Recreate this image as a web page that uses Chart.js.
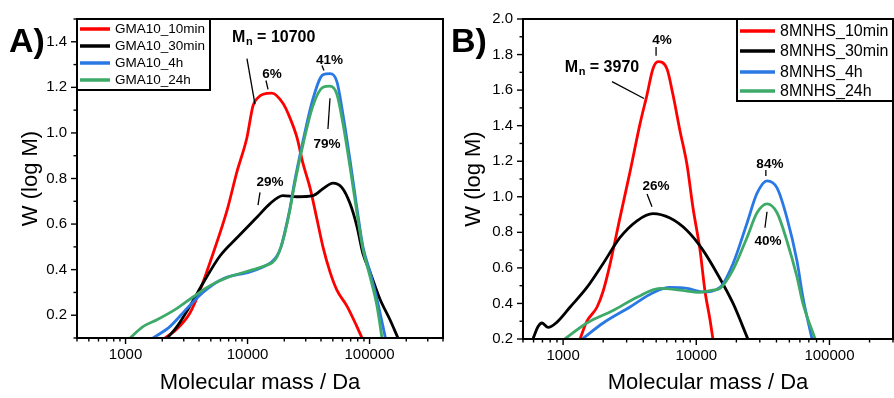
<!DOCTYPE html>
<html>
<head>
<meta charset="utf-8">
<script src="https://cdn.jsdelivr.net/npm/chart.js@4.4.1/dist/chart.umd.min.js"></script>
<style>
  html, body { margin: 0; padding: 0; background: #fff; }
  #wrap { position: relative; width: 894px; height: 398px; overflow: hidden; }
  canvas { position: absolute; top: 0; }
  #chartA { left: 0; }
  #chartB { left: 446px; }
</style>
</head>
<body>
<div id="wrap">
  <canvas id="chartA" width="451" height="398"></canvas>
  <canvas id="chartB" width="455" height="398"></canvas>
</div>
<script>
const FONT = "'Liberation Sans', Arial, Helvetica, sans-serif";
const RED = '#FF0000', BLACK = '#000000', BLUE = '#2A78E4', GREEN = '#3DAA69';

// ---------- Panel A: GMA10 ----------
const gmaLabels = ['GMA10_10min', 'GMA10_30min', 'GMA10_4h', 'GMA10_24h'];

const gma10min_M = [2100, 2640, 3370, 4080, 5210, 6790, 8190, 9890, 11090, 12200, 13400, 15850, 19500, 22300, 25400, 28500, 32500, 37100, 41500, 47400, 54000, 65300, 78800, 86700];
const gma10min_W = [0.10, 0.14, 0.21, 0.31, 0.47, 0.66, 0.83, 0.98, 1.12, 1.155, 1.17, 1.175, 1.13, 1.065, 0.98, 0.865, 0.76, 0.62, 0.50, 0.39, 0.31, 0.24, 0.15, 0.10];

const gma30min_M = [2200, 2640, 3370, 4310, 5940, 8190, 11940, 15300, 19500, 25400, 34400, 41500, 50100, 59400, 69200, 78800, 88300, 100900, 121900, 147100, 171000];
const gma30min_W = [0.10, 0.15, 0.24, 0.34, 0.46, 0.54, 0.63, 0.69, 0.725, 0.72, 0.725, 0.755, 0.78, 0.76, 0.69, 0.59, 0.47, 0.39, 0.27, 0.18, 0.10];

const gma4h_M = [1680, 2310, 3190, 4310, 6300, 10470, 14400, 15850, 17400, 18800, 20300, 22300, 24000, 28500, 34400, 41500, 47400, 54000, 60600, 69200, 78800, 88300, 100900, 115100, 135000];
const gma4h_W = [0.10, 0.15, 0.23, 0.30, 0.36, 0.39, 0.42, 0.435, 0.46, 0.50, 0.57, 0.67, 0.77, 0.965, 1.15, 1.255, 1.26, 1.225, 1.08, 0.88, 0.67, 0.50, 0.39, 0.27, 0.10];

const gma24h_M = [1090, 1390, 1810, 2640, 3570, 4920, 6790, 11090, 14400, 15850, 17400, 18800, 20300, 22300, 24000, 28500, 34400, 41500, 47400, 54000, 60600, 69200, 78800, 88300, 100900, 115100, 126500];
const gma24h_W = [0.10, 0.15, 0.18, 0.23, 0.28, 0.33, 0.365, 0.40, 0.42, 0.43, 0.455, 0.50, 0.565, 0.665, 0.76, 0.95, 1.12, 1.20, 1.205, 1.17, 1.04, 0.85, 0.65, 0.49, 0.37, 0.24, 0.10];

const xTicksA = [400, 500, 600, 700, 800, 900, 1000, 2000, 3000, 4000, 5000, 6000, 7000, 8000, 9000,
  10000, 20000, 30000, 40000, 50000, 60000, 70000, 80000, 90000, 100000, 200000, 300000, 400000];
const yTicksA = [0.1, 0.2, 0.3, 0.4, 0.5, 0.6, 0.7, 0.8, 0.9, 1.0, 1.1, 1.2, 1.3, 1.4, 1.5];
const yLabelsA = [0.2, 0.4, 0.6, 0.8, 1.0, 1.2, 1.4];

// peak percentages and number-average mass for panel A, placed in data space
const notesA = [
  { text: '6%',  M: 15850, W: 1.243 },
  { text: '41%', M: 47000, W: 1.304 },
  { text: '79%', M: 44800, W: 0.935 },
  { text: '29%', M: 15300, W: 0.765 }
];
const leadersA = [
  [[9890, 1.326], [11500, 1.126]],
  [[14160, 1.230], [14720, 1.191]],
  [[40700, 1.296], [42300, 1.274]],
  [[47400, 1.152], [45600, 1.017]],
  [[12650, 0.739], [12180, 0.683]]
];
const mnA = { value: '10700', M: 7470, W: 1.40 };

// ---------- Panel B: 8MNHS ----------
const mnhsLabels = ['8MNHS_10min', '8MNHS_30min', '8MNHS_4h', '8MNHS_24h'];

const mnhs10min_M = [1340, 1510, 1800, 2000, 2250, 2670, 3180, 3780, 4270, 4730, 5160, 6020, 6680, 7550, 8520, 9440, 10670, 11620, 12670, 13330];
const mnhs10min_W = [0.20, 0.30, 0.38, 0.47, 0.62, 0.88, 1.14, 1.41, 1.575, 1.72, 1.76, 1.72, 1.575, 1.37, 1.18, 0.94, 0.70, 0.47, 0.31, 0.20];

const mnhs30min_M = [594, 649, 695, 771, 900, 1130, 1510, 2000, 2670, 3590, 4730, 6350, 8520, 11220, 14300, 18900, 24400];
const mnhs30min_W = [0.20, 0.27, 0.29, 0.265, 0.295, 0.38, 0.49, 0.625, 0.77, 0.865, 0.905, 0.88, 0.81, 0.70, 0.57, 0.40, 0.20];

const mnhs4h_M = [1390, 2000, 3180, 4730, 6350, 8520, 11220, 15070, 18900, 24000, 28600, 34000, 40400, 48000, 57000, 63200, 74000];
const mnhs4h_W = [0.20, 0.29, 0.38, 0.46, 0.49, 0.485, 0.465, 0.49, 0.625, 0.85, 1.02, 1.09, 1.05, 0.88, 0.64, 0.435, 0.20];

const mnhs24h_M = [1030, 1510, 2370, 3590, 5350, 7550, 10670, 13330, 15070, 18900, 24000, 28600, 34000, 40400, 48000, 57000, 63200, 78000];
const mnhs24h_W = [0.20, 0.29, 0.36, 0.435, 0.485, 0.475, 0.463, 0.475, 0.485, 0.59, 0.77, 0.91, 0.96, 0.91, 0.75, 0.55, 0.40, 0.20];

const xTicksB = [500, 600, 700, 800, 900, 1000, 2000, 3000, 4000, 5000, 6000, 7000, 8000, 9000,
  10000, 20000, 30000, 40000, 50000, 60000, 70000, 80000, 90000, 100000, 200000, 300000];
const yTicksB = [0.2, 0.3, 0.4, 0.5, 0.6, 0.7, 0.8, 0.9, 1.0, 1.1, 1.2, 1.3, 1.4, 1.5, 1.6, 1.7, 1.8, 1.9, 2.0];
const yLabelsB = [0.2, 0.4, 0.6, 0.8, 1.0, 1.2, 1.4, 1.6, 1.8, 2.0];

const notesB = [
  { text: '4%',  M: 5540,  W: 1.860 },
  { text: '84%', M: 35700, W: 1.162 },
  { text: '26%', M: 4990,  W: 1.039 },
  { text: '40%', M: 34500, W: 0.726 }
];
const leadersB = [
  [[2330, 1.648], [4050, 1.553]],
  [[4990, 1.843], [4990, 1.793]],
  [[33300, 1.150], [33300, 1.117]],
  [[4270, 1.016], [4650, 0.944]],
  [[33960, 0.916], [32800, 0.826]]
];
const mnB = { value: '3970', M: 1030, W: 1.704 };

const xLabelValues = [1000, 10000, 100000];

function series(label, color, M, W, order) {
  return {
    label,
    data: M.map((m, i) => ({ x: m, y: W[i] })),
    borderColor: color,
    backgroundColor: color,
    borderWidth: 2.8,
    pointRadius: 0,
    cubicInterpolationMode: 'monotone',
    fill: false,
    order
  };
}

// frame, outward tick marks, legend box, annotations and panel letter
function decorPlugin(p) {
  return {
    id: 'decor',
    afterDraw(chart) {
      const ctx = chart.ctx, a = chart.chartArea;
      const xs = chart.scales.x, ys = chart.scales.y;
      ctx.save();
      ctx.strokeStyle = '#000';
      ctx.lineCap = 'butt';

      // tick marks
      ctx.lineWidth = 1.4;
      xs.ticks.forEach(t => {
        const px = xs.getPixelForValue(t.value);
        const len = xLabelValues.includes(t.value) ? 6 : 3.5;
        ctx.beginPath(); ctx.moveTo(px, a.bottom); ctx.lineTo(px, a.bottom + len); ctx.stroke();
      });
      ys.ticks.forEach(t => {
        const py = ys.getPixelForValue(t.value);
        const len = p.yLabels.includes(t.value) ? 6 : 3.5;
        ctx.beginPath(); ctx.moveTo(a.left, py); ctx.lineTo(a.left - len, py); ctx.stroke();
      });

      // plot frame
      ctx.lineWidth = 2;
      ctx.strokeRect(a.left, a.top, a.right - a.left, a.bottom - a.top);

      // legend
      const lg = p.legend;
      const bx = lg.side === 'left' ? a.left : a.right - lg.w;
      const by = a.top;
      ctx.fillStyle = '#fff';
      ctx.fillRect(bx, by, lg.w, lg.h);
      ctx.lineWidth = 2;
      ctx.strokeRect(bx, by, lg.w, lg.h);
      ctx.font = lg.size + 'px ' + FONT;
      ctx.textBaseline = 'middle';
      ctx.textAlign = 'left';
      chart.data.datasets.forEach((ds, i) => {
        const y = by + lg.rows[i];
        ctx.strokeStyle = ds.borderColor;
        ctx.lineWidth = 3.5;
        ctx.beginPath(); ctx.moveTo(bx + lg.x0, y); ctx.lineTo(bx + lg.x1, y); ctx.stroke();
        ctx.fillStyle = '#000';
        ctx.fillText(ds.label, bx + lg.tx, y + 0.5);
      });

      // leader lines
      ctx.strokeStyle = '#000';
      ctx.lineWidth = 1.3;
      p.leaders.forEach(seg => {
        ctx.beginPath();
        ctx.moveTo(xs.getPixelForValue(seg[0][0]), ys.getPixelForValue(seg[0][1]));
        ctx.lineTo(xs.getPixelForValue(seg[1][0]), ys.getPixelForValue(seg[1][1]));
        ctx.stroke();
      });

      // percentage labels
      ctx.fillStyle = '#000';
      ctx.textBaseline = 'alphabetic';
      ctx.textAlign = 'center';
      ctx.font = 'bold 13.5px ' + FONT;
      p.notes.forEach(n => {
        ctx.fillText(n.text, xs.getPixelForValue(n.M), ys.getPixelForValue(n.W));
      });

      // number-average molar mass
      const mx = xs.getPixelForValue(p.mn.M), my = ys.getPixelForValue(p.mn.W);
      ctx.textAlign = 'left';
      ctx.font = 'bold 16px ' + FONT;
      ctx.fillText('M', mx, my);
      let w = ctx.measureText('M').width;
      ctx.font = 'bold 11px ' + FONT;
      ctx.fillText('n', mx + w + 0.5, my + 3.5);
      w += ctx.measureText('n').width + 0.5;
      ctx.font = 'bold 16px ' + FONT;
      ctx.fillText(' = ' + p.mn.value, mx + w, my);

      // panel letter
      ctx.font = 'bold 34px ' + FONT;
      ctx.fillText(p.letter.text, p.letter.x, p.letter.y);
      ctx.restore();
    }
  };
}

function makePanel(id, p) {
  return new Chart(document.getElementById(id), {
    type: 'line',
    data: { datasets: p.datasets },
    options: {
      responsive: false,
      animation: false,
      devicePixelRatio: 1,
      layout: { padding: { left: 0, top: 17, right: 0, bottom: 0 } },
      plugins: { legend: { display: false }, tooltip: { enabled: false } },
      scales: {
        x: {
          type: 'logarithmic',
          min: p.xMin, max: p.xMax,
          afterBuildTicks: s => { s.ticks = p.xTicks.map(v => ({ value: v })); },
          afterFit: s => { s.height = p.xAxisHeight; },
          ticks: {
            autoSkip: false, maxRotation: 0, minRotation: 0, padding: 8, color: '#000',
            font: { family: FONT, size: 15 },
            callback: v => xLabelValues.includes(v) ? String(v) : ''
          },
          grid: { display: false, drawTicks: false },
          border: { display: false },
          title: {
            display: true, text: 'Molecular mass / Da', color: '#000',
            font: { family: FONT, size: 22 }, padding: { top: 0, bottom: 2 }
          }
        },
        y: {
          type: 'linear',
          min: p.yMin, max: p.yMax,
          afterBuildTicks: s => { s.ticks = p.yTicks.map(v => ({ value: v })); },
          afterFit: s => { s.width = 77; },
          ticks: {
            autoSkip: false, padding: 10, color: '#000',
            font: { family: FONT, size: 15 },
            callback: v => p.yLabels.includes(v) ? v.toFixed(1) : ''
          },
          grid: { display: false, drawTicks: false },
          border: { display: false },
          title: {
            display: true, text: 'W (log M)', color: '#000',
            font: { family: FONT, size: 22 }, padding: { top: p.yTitlePad, bottom: 0 }
          }
        }
      }
    },
    plugins: [decorPlugin(p)]
  });
}

makePanel('chartA', {
  datasets: [
    series(gmaLabels[0], RED, gma10min_M, gma10min_W, 3),
    series(gmaLabels[1], BLACK, gma30min_M, gma30min_W, 2),
    series(gmaLabels[2], BLUE, gma4h_M, gma4h_W, 1),
    series(gmaLabels[3], GREEN, gma24h_M, gma24h_W, 0)
  ],
  xMin: 400, xMax: 400000, yMin: 0.1, yMax: 1.5,
  xTicks: xTicksA, yTicks: yTicksA, yLabels: yLabelsA,
  xAxisHeight: 60, yTitlePad: 18,
  legend: { side: 'left', w: 133, h: 71, rows: [10, 27, 44, 61], x0: 3, x1: 33, tx: 38, size: 13.5 },
  notes: notesA, leaders: leadersA, mn: mnA,
  letter: { text: 'A)', x: 9, y: 52 }
});

makePanel('chartB', {
  datasets: [
    series(mnhsLabels[0], RED, mnhs10min_M, mnhs10min_W, 3),
    series(mnhsLabels[1], BLACK, mnhs30min_M, mnhs30min_W, 2),
    series(mnhsLabels[2], BLUE, mnhs4h_M, mnhs4h_W, 1),
    series(mnhsLabels[3], GREEN, mnhs24h_M, mnhs24h_W, 0)
  ],
  xMin: 500, xMax: 300000, yMin: 0.2, yMax: 2.0,
  xTicks: xTicksB, yTicks: yTicksB, yLabels: yLabelsB,
  xAxisHeight: 59, yTitlePad: 15,
  legend: { side: 'right', w: 156, h: 82, rows: [12, 32, 53, 72], x0: 3, x1: 38, tx: 43, size: 16 },
  notes: notesB, leaders: leadersB, mn: mnB,
  letter: { text: 'B)', x: 5, y: 52 }
});
</script>
</body>
</html>
